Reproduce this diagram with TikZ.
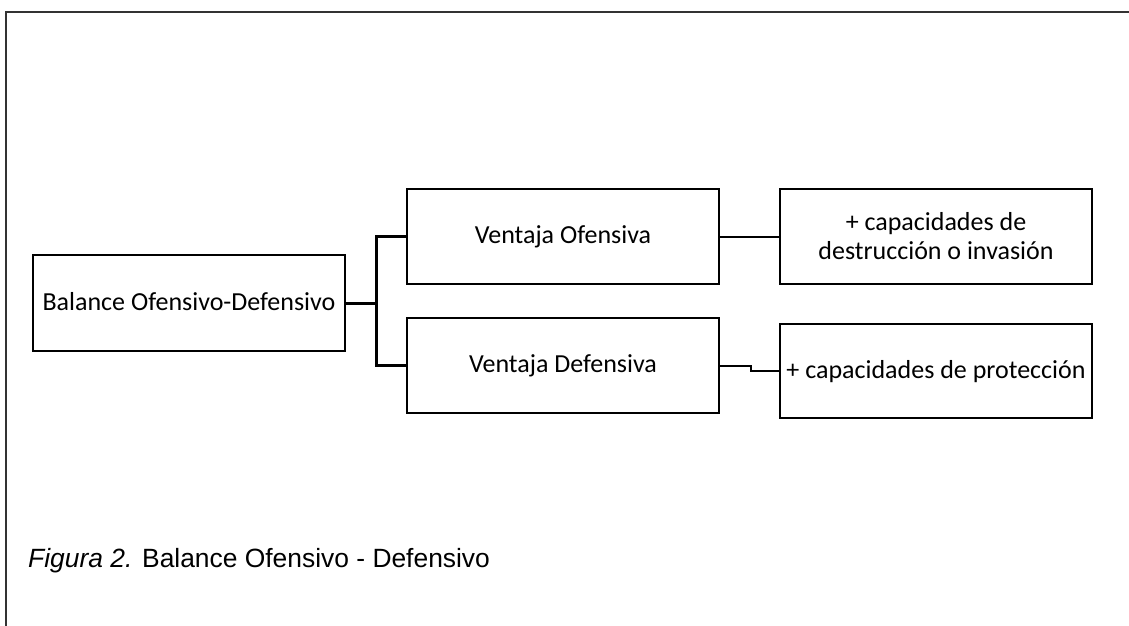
\documentclass[tikz,border=0pt]{standalone}
\usepackage{fontspec}
\setmainfont{Carlito}
\newfontfamily\capfont{Liberation Sans}
\begin{document}
\begin{tikzpicture}[x=1pt,y=-1pt,
  box/.style={draw, line width=2.8pt, minimum width=312pt, inner sep=0pt,
    text height=18pt, text depth=4pt, font=\fontsize{26}{29}\selectfont},
  frame/.style={line width=2pt, draw=black!80},
  conn/.style={line width=3pt, line join=miter},
  thinconn/.style={line width=2pt, line join=miter}]
\useasboundingbox (0,0) rectangle (1129,626);
\draw[frame] (5.5,626) -- (5.5,12.5) -- (1129,12.5);
\node[box, minimum height=96pt] (bal) at (189,303) {Balance Ofensivo-Defensivo};
\node[box, minimum height=95pt] (vo) at (563,236.5) {Ventaja Ofensiva};
\node[box, minimum height=95pt] (vd) at (563,365.5) {Ventaja Defensiva};
\node[box, minimum height=95pt, align=center, text height=, text depth=] (r1) at (936,236.5) {+ capacidades de\\destrucción o invasión};
\node[box, minimum height=94pt] (r2) at (936,371) {+ capacidades de protección};
\coordinate (j) at (376,303);
\draw[conn] (bal.east) -- (j);
\draw[conn] (vo.west) -| (j) |- (vd.west);
\draw[thinconn] (vo.east) -- (r1.west);
\draw[thinconn] (vd.east) -- ++(31,0) |- (r2.west);
\node[anchor=base west, inner sep=0pt, font=\capfont\fontsize{26.4}{31}\selectfont] (cap) at (28,567.7) {{\itshape Figura 2.} Balance Ofensivo - Defensivo};
\end{tikzpicture}
\end{document}
